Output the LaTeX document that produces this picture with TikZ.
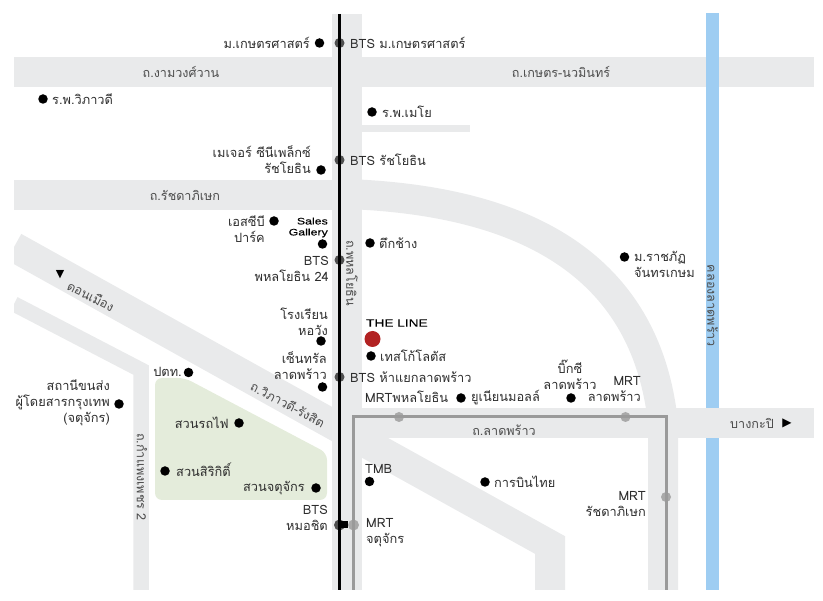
\documentclass[tikz,border=0pt]{standalone}
\usepackage{fontspec}
\usepackage{xcolor}
\usepackage{tikz}
\setmainfont[Script=Thai]{Loma}
\newfontfamily\symfont{DejaVu Sans}
\newfontfamily\widefont[FakeStretch=1.3,FakeBold=0.25]{Liberation Sans}
\definecolor{roadcolor}{RGB}{233,234,235}
\definecolor{canalcolor}{RGB}{158,205,242}
\definecolor{parkcolor}{RGB}{228,236,219}
\definecolor{mrtcolor}{RGB}{154,154,154}
\definecolor{stationcolor}{RGB}{80,80,80}
\definecolor{markcolor}{RGB}{178,34,34}
\definecolor{textcolor}{RGB}{45,45,45}

\begin{document}
\begin{tikzpicture}[
    x=1pt, y=-1pt,
    road/.style={draw=roadcolor, line width=30pt},
    spot/.style={circle, fill=black, inner sep=0pt, minimum size=9.5pt},
    btsstop/.style={circle, fill=stationcolor, inner sep=0pt, minimum size=10pt},
    mrtstop/.style={circle, fill=mrtcolor!85, inner sep=0pt, minimum size=10pt},
    place/.style={inner sep=0pt, text=textcolor, font=\fontsize{12.8}{16}\selectfont, align=#1},
    place/.default=left,
    street/.style={inner sep=0pt, text=textcolor!85, font=\fontsize{12.6}{16}\selectfont},
    brand/.style={inner sep=0pt, text=black, font=\widefont\fontsize{9.5}{11}\selectfont, align=right}
]
    \useasboundingbox (0,0) rectangle (823,601);

    % roads
    \begin{scope}
        \clip (14,14) rectangle (814,590);
        \draw[road] (14,72) -- (814,72);
        \draw[road, line width=7pt] (347,128.5) -- (470,128.5);
        \draw[road] (14,195) -- (347,195);
        \draw[road] (347,194) .. controls (510,200) and (645,255) .. (663,423) -- (663,590);
        \draw[road] (14,247) -- (332,424) -- (550,545) -- (550,590);
        \draw[road, line width=15.5pt] (14,304) -- (141,370) -- (141,590);
        \draw[road] (347,14) -- (347,590);
    \end{scope}
    \fill[canalcolor] (706,13) rectangle (719,590);
    \draw[road] (347,423) -- (814,423);
    \fill[parkcolor, rounded corners=7pt] (155,378) -- (185,378) -- (327,453) -- (327,500) -- (155,500) -- cycle;

    % stations
    \node[btsstop] (btskaset) at (339.5,43) {};
    \node[btsstop] (btsratcha) at (339.5,160) {};
    \node[btsstop] (bts24) at (339.5,260) {};
    \node[btsstop] (btshaayaek) at (339.5,377) {};
    \node[btsstop, minimum size=11pt] (btsmochit) at (339.5,525) {};
    \node[mrtstop] (mrtphahon) at (399,417) {};
    \node[mrtstop] (mrtlad) at (625.5,417) {};
    \node[mrtstop] (mrtratchada) at (666,497) {};
    \node[mrtstop, minimum size=11pt] (mrtchatu) at (353.5,525) {};
    \coordinate (btstop) at (339.5,14);
    \coordinate (btsend) at (339.5,590);
    \coordinate (mrtcorner) at (353.5,417);
    \coordinate (mrtturn) at (666,417);
    \coordinate (mrtendl) at (353.5,590);
    \coordinate (mrtendr) at (666,590);

    \draw[line width=3pt] (btstop) -- (btskaset.center) -- (btsratcha.center) -- (bts24.center) -- (btshaayaek.center) -- (btsmochit.center) -- (btsend);
    \draw[mrtcolor, line width=3pt] (mrtendl) -- (mrtchatu.center) -- (mrtcorner) -- (mrtphahon.center) -- (mrtlad.center) -- (mrtturn) -- (mrtratchada.center) -- (mrtendr);
    \draw[line width=7pt] (btsmochit.center) -- (mrtchatu.west);

    % places
    \node[spot] (kaset) at (319.5,43) {};
    \node[place, anchor=east] (kasettxt) at (310,43) {ม.เกษตรศาสตร์};
    \node[place, anchor=west] (btskasettxt) at (350,43) {BTS ม.เกษตรศาสตร์};
    \node[spot] (vibha) at (43,99) {};
    \node[place, anchor=west] (vibhatxt) at (52,99) {ร.พ.วิภาวดี};
    \node[spot] (mayo) at (372,112) {};
    \node[place, anchor=west] (mayotxt) at (382,112) {ร.พ.เมโย};
    \node[spot] (major) at (321,170) {};
    \node[place=right, anchor=east] (majortxt) at (311,160) {เมเจอร์ ซีนีเพล็กซ์\\รัชโยธิน};
    \node[place, anchor=west] (btsratchatxt) at (350,160) {BTS รัชโยธิน};
    \node[spot] (scb) at (274,221) {};
    \node[place=right, anchor=east] (scbtxt) at (265,229.5) {เอสซีบี\\ปาร์ค};
    \node[brand, anchor=east] (salestxt) at (328,227.5) {Sales\\Gallery};
    \node[spot] (sales) at (322.5,244) {};
    \node[spot] (elephant) at (370,243) {};
    \node[place, anchor=west] (elephanttxt) at (379,243) {ตึกช้าง};
    \node[place=right, anchor=east] (bts24txt) at (329,269) {BTS\\พหลโยธิน 24};
    \node[place=right, anchor=east] (horwangtxt) at (328,321.5) {โรงเรียน\\หอวัง};
    \node[spot] (horwang) at (321,341) {};
    \node[place=right, anchor=east] (centraltxt) at (327,366) {เซ็นทรัล\\ลาดพร้าว};
    \node[spot] (central) at (322.5,387) {};
    \node[place, anchor=west] (btshaayaektxt) at (350,377) {BTS ห้าแยกลาดพร้าว};
    \node[brand, anchor=west, font=\widefont\fontsize{10.5}{11}\selectfont] (linetxt) at (366,323) {THE LINE};
    \node[circle, fill=markcolor, inner sep=0pt, minimum size=16pt] (line) at (372.5,339) {};
    \node[spot] (lotus) at (371,356) {};
    \node[place, anchor=west] (lotustxt) at (380,356) {เทสโก้โลตัส};
    \node[place, anchor=west] (mrtphahontxt) at (365,397) {MRTพหลโยธิน};
    \node[spot] (union) at (461,398) {};
    \node[place, anchor=west] (uniontxt) at (471,398) {ยูเนียนมอลล์};
    \node[place=center] (bigctxt) at (570,375) {บิ๊กซี\\ลาดพร้าว};
    \node[spot] (bigc) at (571,398) {};
    \node[place=right, anchor=east] (mrtladtxt) at (641,389) {MRT\\ลาดพร้าว};
    \node[spot] (rajabhat) at (624.5,257) {};
    \node[place, anchor=west] (rajabhattxt) at (634,264) {ม.ราชภัฏ\\จันทรเกษม};
    \node[place, anchor=west] (tmbtxt) at (365,469) {TMB};
    \node[spot] (tmb) at (369.5,481.5) {};
    \node[spot] (thai) at (485,482) {};
    \node[place, anchor=west] (thaitxt) at (494,482) {การบินไทย};
    \node[place=right, anchor=east] (mrtratchadatxt) at (646,504) {MRT\\รัชดาภิเษก};
    \node[place=right, anchor=east] (btsmochittxt) at (328,518) {BTS\\หมอชิต};
    \node[place, anchor=west] (mrtchatutxt) at (366,533) {MRT\\จตุจักร};
    \node[spot] (ptt) at (188.5,372.5) {};
    \node[place, anchor=east] (ptttxt) at (182,372) {ปตท.};
    \node[spot] (bus) at (119,404) {};
    \node[place=right, anchor=east] (bustxt) at (110,403) {สถานีขนส่ง\\ผู้โดยสารกรุงเทพ\\(จตุจักร)};
    \node[spot] (railway) at (239,423) {};
    \node[place, anchor=east] (railwaytxt) at (229,423) {สวนรถไฟ};
    \node[spot] (sirikit) at (165,471) {};
    \node[place, anchor=west] (sirikittxt) at (176,470) {สวนสิริกิติ์};
    \node[spot] (chatu) at (316,488) {};
    \node[place, anchor=east] (chatutxt) at (305,488) {สวนจตุจักร};

    % road names
    \node[street] (ngam) at (181,72) {ถ.งามวงศ์วาน};
    \node[street] (kasetnawa) at (561,72) {ถ.เกษตร-นวมินทร์};
    \node[street] (ratchada) at (185,195) {ถ.รัชดาภิเษก};
    \node[street, rotate=-90] (phahon) at (352,273) {ถ.พหลโยธิน};
    \node[street] (lad) at (504,430) {ถ.ลาดพร้าว};
    \node[street, rotate=-28] (vibharoad) at (288,404) {ถ.วิภาวดี-รังสิต};
    \node[street, rotate=-90] (kamphaeng) at (142,477) {ถ.กำแพงเพชร 2};
    \node[street, rotate=-90] (canal) at (712.5,306) {คลองลาดพร้าว};
    \node[street, rotate=-27] (donmuang) at (91,296) {ดอนเมือง};
    \node[inner sep=0pt, font=\symfont\fontsize{11}{11}\selectfont] (donarrow) at (60,275) {▼};
    \node[street] (bangkapi) at (752,423) {บางกะปิ};
    \node[inner sep=0pt, font=\symfont\fontsize{12}{12}\selectfont] (bangarrow) at (787,423) {▶};
\end{tikzpicture}
\end{document}
